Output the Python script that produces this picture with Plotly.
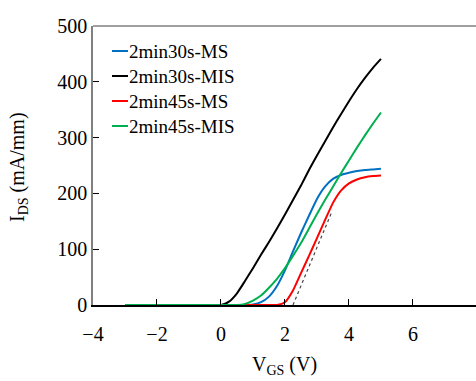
import plotly.graph_objects as go

# Transfer characteristics I_DS vs V_GS for four devices
series_names = ["2min30s-MS", "2min30s-MIS", "2min45s-MS", "2min45s-MIS"]
series_colors = ["#0070C0", "#000000", "#FF0000", "#00B050"]

vgs_ms30 = [-3, 0, 0.75, 1.0, 1.25, 1.5, 1.75, 2.0, 2.25, 2.5, 2.75, 3.0, 3.25, 3.5, 3.75, 4.0, 4.25, 4.5, 4.75, 5.0]
ids_ms30 = [0, 0, 0, 1, 5, 15, 34, 62, 96, 129, 160, 190, 212, 226, 233, 237, 240, 242, 243, 244]

vgs_mis30 = [-3, 0, 0.25, 0.5, 0.75, 1.0, 1.25, 1.5, 1.75, 2.0, 2.25, 2.5, 2.75, 3.0, 3.25, 3.5, 3.75, 4.0, 4.25, 4.5, 4.75, 5.0]
ids_mis30 = [0, 0, 6, 21, 43, 66, 90, 113, 137, 162, 188, 214, 242, 268, 293, 318, 342, 365, 387, 407, 425, 441]

vgs_ms45 = [-3, 0, 1.5, 1.75, 2.0, 2.25, 2.5, 2.75, 3.0, 3.25, 3.5, 3.75, 4.0, 4.25, 4.5, 4.75, 5.0]
ids_ms45 = [0, 0, 0, 0, 5, 26, 57, 88, 120, 152, 183, 205, 218, 225, 229, 231, 232]

vgs_mis45 = [-3, 0, 0.5, 0.75, 1.0, 1.25, 1.5, 1.75, 2.0, 2.25, 2.5, 2.75, 3.0, 3.25, 3.5, 3.75, 4.0, 4.25, 4.5, 4.75, 5.0]
ids_mis45 = [0, 0, 0, 2, 8, 17, 31, 47, 66, 88, 111, 137, 163, 188, 212, 236, 259, 282, 304, 325, 345]

# Linear extrapolation used for the threshold voltage
vgs_fit = [2.25, 3.45]
ids_fit = [0, 165]

x_ticks = [-4, -2, 0, 2, 4, 6]
y_ticks = [0, 100, 200, 300, 400, 500]

xs = [vgs_ms30, vgs_mis30, vgs_ms45, vgs_mis45]
ys = [ids_ms30, ids_mis30, ids_ms45, ids_mis45]

SERIF = "Liberation Serif"

fig = go.Figure()
for name, color, x, y in zip(series_names, series_colors, xs, ys):
    fig.add_trace(go.Scatter(x=x, y=y, mode="lines", name=name,
                             line=dict(color=color, width=2, shape="spline", smoothing=0.5),
                             showlegend=False))

fig.add_trace(go.Scatter(x=vgs_fit, y=ids_fit, mode="lines", showlegend=False,
                         line=dict(color="#444444", width=1.2, dash="dot")))

W, H = 476, 381
ml, mr, mt, mb = 93, 0, 26, 76
pw, ph = W - ml - mr, H - mt - mb

# Hand-built legend: short line sample plus label
leg_x0, leg_y0, leg_dy = 112, 51, 25
for i, (name, color) in enumerate(zip(series_names, series_colors)):
    yc = leg_y0 + i * leg_dy
    yp = 1 - (yc - mt) / ph
    fig.add_shape(type="line", xref="paper", yref="paper",
                  x0=(leg_x0 - ml) / pw, x1=(leg_x0 + 16 - ml) / pw,
                  y0=yp, y1=yp, line=dict(color=color, width=2))
    fig.add_annotation(text=name, xref="paper", yref="paper",
                       x=(leg_x0 + 15 - ml) / pw, y=1 - (yc - 12 - mt) / ph, xanchor="left",
                       showarrow=False, font=dict(family=SERIF, size=19, color="black"))

# Top frame line
fig.add_shape(type="line", xref="paper", yref="paper", x0=0, x1=1, y0=1, y1=1,
              line=dict(color="#808080", width=1.5))

fig.add_annotation(text="I<sub>DS</sub> (mA/mm)", xref="paper", yref="paper",
                   x=(18 - ml) / pw, y=1 - (167 - mt) / ph, textangle=-90,
                   xanchor="center", showarrow=False,
                   font=dict(family=SERIF, size=20, color="black"))
fig.add_annotation(text="V<sub>GS</sub> (V)", xref="paper", yref="paper",
                   x=(284 - ml) / pw, y=1 - (380 - mt) / ph,
                   xanchor="center", showarrow=False,
                   font=dict(family=SERIF, size=20, color="black"))

fig.update_layout(
    width=W, height=H,
    margin=dict(l=ml, r=mr, t=mt, b=mb),
    paper_bgcolor="white", plot_bgcolor="white",
)
fig.update_xaxes(range=[-4, 7.97], tickvals=x_ticks,
                 ticks="inside", ticklen=6, tickcolor="black", tickwidth=1,
                 showline=True, linecolor="black", linewidth=1.5,
                 showgrid=False, zeroline=False, ticklabelstandoff=10,
                 tickfont=dict(family=SERIF, size=20, color="black"))
fig.update_yaxes(range=[0, 500], tickvals=y_ticks,
                 ticks="inside", ticklen=6, tickcolor="black", tickwidth=1,
                 showline=True, linecolor="#808080", linewidth=1.5,
                 showgrid=False, zeroline=False,
                 tickfont=dict(family=SERIF, size=20, color="black"))

fig.write_html("out.html")
